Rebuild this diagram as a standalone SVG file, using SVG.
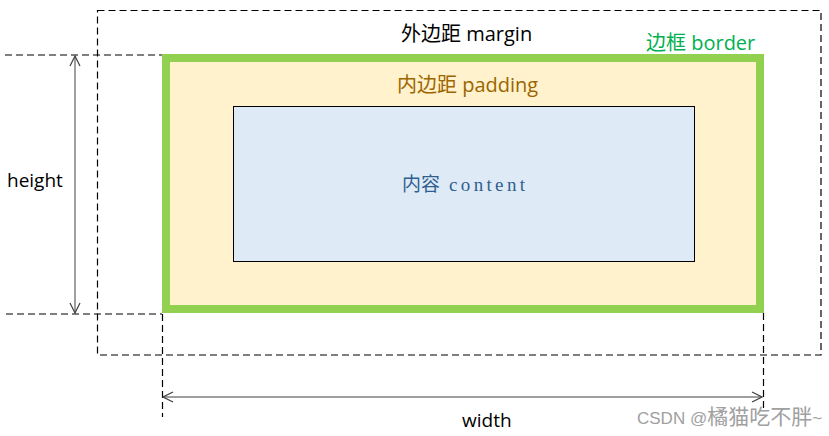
<svg xmlns="http://www.w3.org/2000/svg" width="829" height="436" viewBox="0 0 829 436">
<style>
.dash{fill:none;stroke:#000;stroke-width:1.2;stroke-dasharray:7 4}
.t{font-family:"Open Sans","Noto Sans CJK SC",sans-serif;font-size:20px}
.s{font-size:19px}
.arr{stroke:#7f7f7f;stroke-width:1.5;fill:none}
</style>
<defs>
<marker id="ah" viewBox="0 0 12 12" refX="11" refY="6" markerWidth="12" markerHeight="12" markerUnits="userSpaceOnUse" orient="auto-start-reverse">
<path d="M1,1 L11,6 L1,11" fill="none" stroke="#404040" stroke-width="1.2"/>
</marker>
</defs>
<rect width="829" height="436" fill="#fff"/>
<g id="margin">
<rect class="dash" x="97.5" y="10.5" width="723.5" height="344.5"/>
<text class="t" x="401" y="41" fill="#000">外边距 margin</text>
</g>
<g id="border">
<rect x="166" y="58" width="594" height="251" fill="#fff2cc" stroke="#92d050" stroke-width="8"/>
<text class="t" x="646" y="50" fill="#00b050">边框 border</text>
</g>
<g id="padding">
<text class="t" x="397" y="92" fill="#9c6500">内边距 padding</text>
</g>
<g id="content">
<rect x="233.5" y="106.5" width="461" height="155" fill="#deebf7" stroke="#000" stroke-width="1"/>
<text x="402" y="191" font-family="Liberation Serif,Noto Sans CJK SC,serif" font-size="19" fill="#2f5f8f">内容 <tspan x="449" textLength="76" lengthAdjust="spacing">content</tspan></text>
</g>
<g id="connectors">
<line class="dash" x1="5" y1="55" x2="162" y2="55"/>
<line class="dash" x1="6" y1="314" x2="162" y2="314"/>
<line class="dash" x1="162.5" y1="314" x2="162.5" y2="417"/>
<line class="dash" x1="763.5" y1="313" x2="763.5" y2="412"/>
<line class="arr" x1="75" y1="56" x2="75" y2="313" marker-start="url(#ah)" marker-end="url(#ah)"/>
<line class="arr" x1="163" y1="397" x2="762" y2="397" stroke="#595959" marker-start="url(#ah)" marker-end="url(#ah)"/>
</g>
<g id="labels">
<text class="t s" x="7" y="187" fill="#000">height</text>
<text class="t s" x="462" y="427" fill="#000">width</text>
<text x="637" y="424" font-family="Liberation Sans,Noto Sans CJK SC,sans-serif" font-size="17" fill="#a0a0a0">CSDN @<tspan font-size="21">橘猫吃不胖</tspan>~</text>
</g>
</svg>
